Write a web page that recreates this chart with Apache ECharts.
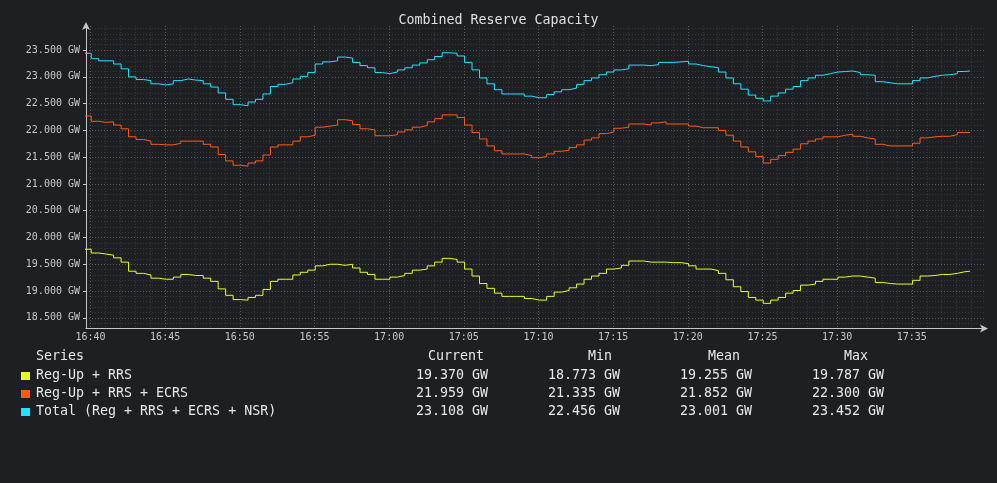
<!DOCTYPE html>
<html lang="en">
  <head>
    <meta charset="utf-8">
    <script src="https://cdn.jsdelivr.net/npm/echarts@6.0.0/dist/echarts.min.js"></script>
    <style>
      html, body { margin: 0; padding: 0; background: #1e1f22; }
      #chart { width: 997px; height: 483px; }
    </style>
  </head>
  <body>
    <div id="chart"></div>
    <script>
      // 30 second samples (GW), first sample starts at 16:39:33
      const regUpRrs = [
        19.78, 19.71, 19.69, 19.67, 19.62, 19.54, 19.37, 19.33, 19.30, 19.24,
        19.22, 19.22, 19.26, 19.31, 19.29, 19.29, 19.24, 19.18, 19.04, 18.92,
        18.84, 18.83, 18.88, 18.92, 19.03, 19.18, 19.22, 19.22, 19.30, 19.35,
        19.39, 19.47, 19.50, 19.50, 19.48, 19.50, 19.43, 19.35, 19.31, 19.22,
        19.22, 19.26, 19.29, 19.33, 19.39, 19.41, 19.47, 19.54, 19.61, 19.59,
        19.54, 19.41, 19.28, 19.14, 19.05, 18.96, 18.90, 18.90, 18.90, 18.86,
        18.83, 18.83, 18.90, 18.98, 19.01, 19.06, 19.13, 19.22, 19.28, 19.33,
        19.41, 19.43, 19.48, 19.56, 19.56, 19.54, 19.54, 19.54, 19.53, 19.53,
        19.51, 19.47, 19.41, 19.41, 19.38, 19.33, 19.21, 19.08, 18.99, 18.88,
        18.83, 18.77, 18.83, 18.88, 18.96, 19.01, 19.11, 19.13, 19.18, 19.22,
        19.22, 19.26, 19.28, 19.28, 19.26, 19.24, 19.16, 19.14, 19.13, 19.13,
        19.13, 19.20, 19.28, 19.29, 19.31, 19.31, 19.33, 19.36, 19.37
      ];
      const regUpRrsEcrs = [
        22.27, 22.17, 22.15, 22.16, 22.10, 22.03, 21.88, 21.83, 21.80, 21.74,
        21.73, 21.73, 21.76, 21.80, 21.80, 21.80, 21.74, 21.69, 21.55, 21.43,
        21.35, 21.33, 21.39, 21.43, 21.54, 21.69, 21.73, 21.73, 21.80, 21.88,
        21.91, 22.06, 22.08, 22.10, 22.20, 22.18, 22.11, 22.03, 22.01, 21.90,
        21.90, 21.92, 21.97, 22.01, 22.06, 22.09, 22.16, 22.22, 22.29, 22.29,
        22.24, 22.10, 21.96, 21.84, 21.71, 21.62, 21.56, 21.56, 21.56, 21.53,
        21.49, 21.51, 21.56, 21.61, 21.63, 21.68, 21.73, 21.82, 21.86, 21.94,
        21.97, 22.04, 22.06, 22.12, 22.12, 22.10, 22.14, 22.16, 22.12, 22.12,
        22.12, 22.08, 22.05, 22.05, 22.05, 22.00, 21.91, 21.80, 21.69, 21.60,
        21.51, 21.39, 21.46, 21.53, 21.59, 21.65, 21.75, 21.80, 21.84, 21.88,
        21.88, 21.91, 21.93, 21.89, 21.86, 21.84, 21.74, 21.71, 21.71, 21.71,
        21.71, 21.76, 21.86, 21.88, 21.89, 21.89, 21.92, 21.96, 21.96
      ];
      const totalReserve = [
        23.44, 23.34, 23.30, 23.30, 23.24, 23.15, 23.00, 22.95, 22.93, 22.87,
        22.85, 22.87, 22.93, 22.96, 22.94, 22.93, 22.87, 22.81, 22.70, 22.58,
        22.48, 22.46, 22.53, 22.58, 22.68, 22.82, 22.86, 22.89, 22.96, 23.01,
        23.08, 23.24, 23.28, 23.30, 23.37, 23.35, 23.27, 23.21, 23.17, 23.08,
        23.06, 23.09, 23.13, 23.17, 23.22, 23.26, 23.32, 23.38, 23.45, 23.44,
        23.39, 23.27, 23.13, 22.98, 22.87, 22.76, 22.68, 22.68, 22.68, 22.64,
        22.61, 22.61, 22.67, 22.72, 22.76, 22.79, 22.86, 22.93, 22.98, 23.04,
        23.09, 23.13, 23.15, 23.22, 23.22, 23.21, 23.23, 23.27, 23.27, 23.28,
        23.29, 23.24, 23.21, 23.19, 23.17, 23.09, 22.98, 22.87, 22.77, 22.66,
        22.60, 22.55, 22.64, 22.70, 22.77, 22.82, 22.93, 22.98, 23.03, 23.06,
        23.09, 23.10, 23.11, 23.08, 23.04, 23.03, 22.91, 22.89, 22.87, 22.87,
        22.87, 22.93, 22.98, 23.01, 23.03, 23.04, 23.06, 23.10, 23.11
      ];

      const seriesNames = ['Reg-Up + RRS', 'Reg-Up + RRS + ECRS', 'Total (Reg + RRS + ECRS + NSR)'];
      const seriesColors = ['#e5ff1a', '#ff5a14', '#1ee5ff'];

      // legend table, as printed under the graph
      const statCurrent = [19.370, 21.959, 23.108];
      const statMin = [18.773, 21.335, 22.456];
      const statMean = [19.255, 21.852, 23.001];
      const statMax = [19.787, 22.300, 23.452];

      const firstSample = new Date(2024, 0, 15, 16, 39, 33).getTime();
      const lastSampleEnd = new Date(2024, 0, 15, 17, 38, 54).getTime();
      const sampleStep = 30 * 1000;
      const xMin = new Date(2024, 0, 15, 16, 39, 42).getTime();
      const xMax = new Date(2024, 0, 15, 17, 39, 50).getTime();

      const font = "'DejaVu Sans Mono', monospace";

      function toPoints(vals) {
        var pts = vals.map(function (v, k) { return [firstSample + k * sampleStep, v]; });
        pts.push([lastSampleEnd, vals[vals.length - 1]]);
        return pts;
      }

      function pad(n) { return (n < 10 ? '0' : '') + n; }

      function timeLabel(v) {
        var d = new Date(v);
        if (d.getSeconds() !== 0 || d.getMinutes() % 5 !== 0) return '';
        return pad(d.getHours()) + ':' + pad(d.getMinutes());
      }

      function gwLabel(v) {
        if (Math.abs(v * 2 - Math.round(v * 2)) > 1e-6) return '';
        return v.toFixed(3) + ' GW';
      }

      function fmt(v) { return v.toFixed(3) + ' GW'; }

      // legend under the plot
      const textColor = '#e8e8e8';
      const rowY = [375, 393, 411];
      const graphic = [];
      function addText(x, y, text, align) {
        graphic.push({
          type: 'text', x: x, y: y, silent: true,
          style: { text: text, fill: textColor, font: '13.3px ' + font, textAlign: align, textVerticalAlign: 'middle' }
        });
      }
      addText(36, 357, 'Series', 'left');
      addText(484, 357, 'Current', 'right');
      addText(600, 357, 'Min', 'center');
      addText(724, 357, 'Mean', 'center');
      addText(856, 357, 'Max', 'center');
      for (let i = 0; i < seriesNames.length; i++) {
        graphic.push({
          type: 'rect', x: 21, y: rowY[i] - 3, silent: true,
          shape: { width: 9, height: 8 },
          style: { fill: seriesColors[i] }
        });
        addText(36, rowY[i] + 0.5, seriesNames[i], 'left');
        addText(488, rowY[i] + 0.5, fmt(statCurrent[i]), 'right');
        addText(620, rowY[i] + 0.5, fmt(statMin[i]), 'right');
        addText(752, rowY[i] + 0.5, fmt(statMean[i]), 'right');
        addText(884, rowY[i] + 0.5, fmt(statMax[i]), 'right');
      }

      const majorGrid = { color: '#5a5a5c', width: 1, type: [1, 2] };
      const minorGrid = { color: '#363739', width: 1, type: [1, 2] };
      const axisColor = '#c8c8c8';

      var myChart = echarts.init(document.getElementById('chart'));
      var option = {
        backgroundColor: '#1e1f22',
        animation: false,
        title: {
          text: 'Combined Reserve Capacity',
          left: 'center',
          top: 9,
          textStyle: { color: '#e0e0e0', fontSize: 13.3, fontWeight: 'normal', fontFamily: font }
        },
        grid: { left: 86, top: 26, width: 898, height: 302.5, containLabel: false },
        xAxis: {
          type: 'value',
          min: xMin,
          max: xMax,
          minInterval: 5 * 60 * 1000,
          maxInterval: 5 * 60 * 1000,
          axisLine: {
            show: true, onZero: false,
            lineStyle: { color: axisColor, width: 1 },
            symbol: ['none', 'arrow'], symbolSize: [6, 8], symbolOffset: [0, 4]
          },
          axisTick: { show: false },
          axisLabel: {
            color: axisColor, fontSize: 10, fontFamily: font, margin: 4,
            formatter: timeLabel, showMinLabel: false, showMaxLabel: false
          },
          splitLine: { show: true, showMinLine: false, showMaxLine: false, lineStyle: majorGrid },
          minorTick: { show: false, splitNumber: 5 },
          minorSplitLine: { show: true, lineStyle: minorGrid }
        },
        yAxis: {
          type: 'value',
          min: 18.3,
          max: 23.95,
          minInterval: 0.5,
          maxInterval: 0.5,
          axisLine: {
            show: true,
            lineStyle: { color: axisColor, width: 1 },
            symbol: ['none', 'arrow'], symbolSize: [6, 8], symbolOffset: [0, 4]
          },
          axisTick: { show: true, length: 3, inside: false, lineStyle: { color: axisColor } },
          axisLabel: {
            color: axisColor, fontSize: 10, fontFamily: font, margin: 6,
            formatter: gwLabel, showMinLabel: false, showMaxLabel: false
          },
          splitLine: { show: true, showMinLine: false, showMaxLine: false, lineStyle: majorGrid },
          minorTick: { show: false, splitNumber: 5 },
          minorSplitLine: { show: true, lineStyle: minorGrid }
        },
        series: [regUpRrs, regUpRrsEcrs, totalReserve].map(function (vals, i) {
          return {
            name: seriesNames[i],
            type: 'line',
            step: 'end',
            showSymbol: false,
            symbol: 'none',
            clip: true,
            data: toPoints(vals),
            lineStyle: { color: seriesColors[i], width: 1 },
            itemStyle: { color: seriesColors[i] }
          };
        }),
        graphic: graphic
      };
      myChart.setOption(option);
    </script>
  </body>
</html>
